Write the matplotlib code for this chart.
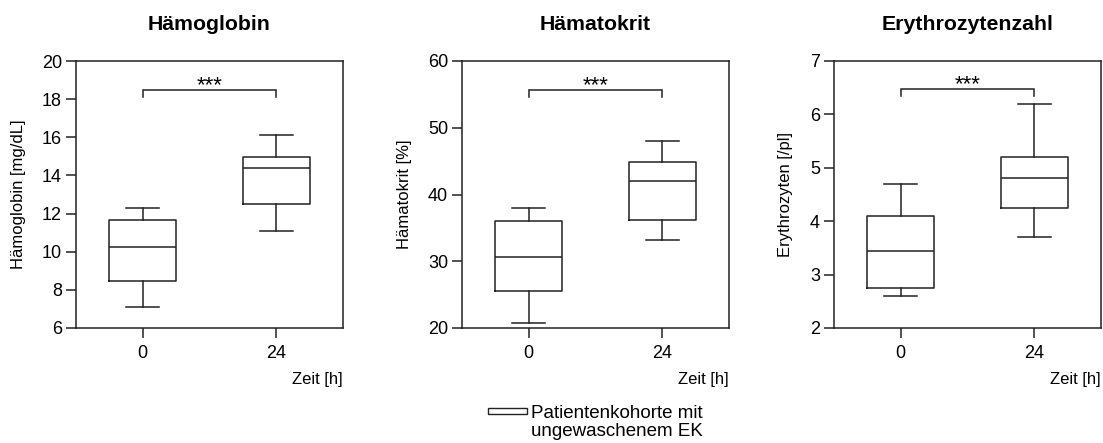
import matplotlib
matplotlib.use("Agg")
import matplotlib.pyplot as plt
from matplotlib.patches import Rectangle

plt.rcParams['font.family'] = ['Liberation Sans', 'DejaVu Sans']

# Zeitpunkte
zeiten = ['0', '24']

# Boxplot-Kennwerte je Zeitpunkt: [min, Q1, Median, Q3, max]
haemoglobin = [[7.1, 8.45, 10.25, 11.65, 12.3],
               [11.1, 12.5, 14.4, 14.95, 16.1]]
haematokrit = [[20.7, 25.5, 30.6, 36.0, 38.0],
               [33.2, 36.25, 42.0, 44.8, 48.0]]
erythrozyten = [[2.6, 2.75, 3.45, 4.1, 4.7],
                [3.7, 4.25, 4.8, 5.2, 6.2]]

titel = ['Hämoglobin', 'Hämatokrit', 'Erythrozytenzahl']
ylabels = ['Hämoglobin [mg/dL]', 'Hämatokrit [%]', 'Erythrozyten [/pl]']
ylims = [(6, 20), (20, 60), (2, 7)]
yticks = [[6, 8, 10, 12, 14, 16, 18, 20], [20, 30, 40, 50, 60], [2, 3, 4, 5, 6, 7]]
klammer_y = [18.5, 55.7, 6.47]   # Hoehe der Signifikanzklammer
klammer_fuss = [0.4, 1.1, 0.12]  # Laenge der Klammerenden
signifikanz = '***'

daten = [haemoglobin, haematokrit, erythrozyten]

W, H = 1103, 443
fig = plt.figure(figsize=(W / 100, H / 100), dpi=100)

links = [76, 462, 834]
label_x = [-0.187, -0.187, -0.154]
farbe = '#222222'
lw = 1.1

for i in range(3):
    ax = fig.add_axes([links[i] / W, (H - 328) / H, 267 / W, 267 / H])
    stats = []
    for j, werte in enumerate(daten[i]):
        stats.append({'whislo': werte[0], 'q1': werte[1], 'med': werte[2],
                      'q3': werte[3], 'whishi': werte[4], 'label': zeiten[j]})
    ax.bxp(stats, positions=[0, 1], widths=0.5, showfliers=False,
           boxprops=dict(color=farbe, linewidth=lw),
           whiskerprops=dict(color=farbe, linewidth=lw),
           capprops=dict(color=farbe, linewidth=lw),
           medianprops=dict(color=farbe, linewidth=lw),
           capwidths=0.25)
    ax.set_xlim(-0.5, 1.5)
    ax.set_ylim(*ylims[i])
    ax.set_yticks(yticks[i])
    ax.set_xticks([0, 1])
    ax.set_xticklabels(zeiten)
    ax.tick_params(direction='out', length=7, width=lw, color=farbe,
                   labelsize=13, pad=3)
    ax.tick_params(axis='x', pad=5)
    for s in ax.spines.values():
        s.set_linewidth(lw)
        s.set_color(farbe)

    ax.set_ylabel(ylabels[i], fontsize=12)
    ax.yaxis.set_label_coords(label_x[i], 0.5)
    ax.text(1.0, -0.165, 'Zeit [h]', transform=ax.transAxes, ha='right',
            va='top', fontsize=12)
    ax.text(0.5, 1.135, titel[i], transform=ax.transAxes, ha='center',
            va='center', fontsize=15.3, fontweight='bold')

    # Signifikanzklammer
    ky = klammer_y[i]
    kf = klammer_fuss[i]
    ax.plot([0, 0, 1, 1], [ky - kf, ky, ky, ky - kf], color=farbe,
            linewidth=lw, solid_joinstyle='miter')
    ax.annotate(signifikanz, xy=(0.5, ky), xytext=(0, -0.8),
                textcoords='offset points', ha='center', va='baseline',
                fontsize=16)

# Legende
fig.patches.append(Rectangle((488 / W, 1 - 414 / H), 39 / W, 6 / H,
                             transform=fig.transFigure, facecolor='white',
                             edgecolor=farbe, linewidth=1.0))
fig.text(531 / W, 1 - 422.5 / H, 'Patientenkohorte mit\nungewaschenem EK',
         ha='left', va='center', fontsize=13.5, linespacing=1.02)

fig.savefig('out.png', dpi=100)
